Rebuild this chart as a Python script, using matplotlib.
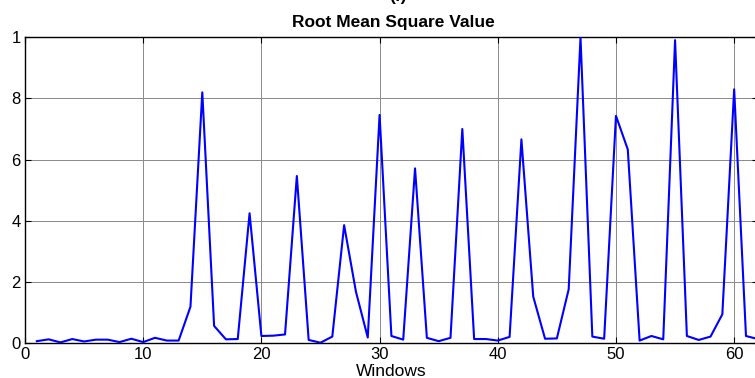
import matplotlib
matplotlib.use("Agg")
import matplotlib.pyplot as plt

plt.rcParams['font.family'] = ['Liberation Sans', 'DejaVu Sans']

# RMS value per window
windows = list(range(1, 63))
rms = [0.005, 0.011, 0.001, 0.012, 0.004, 0.010, 0.010, 0.002, 0.013, 0.002,
       0.016, 0.007, 0.007, 0.118, 0.820, 0.055, 0.011, 0.012, 0.424, 0.022,
       0.023, 0.027, 0.546, 0.009, 0.000, 0.020, 0.385, 0.167, 0.017, 0.746,
       0.022, 0.010, 0.571, 0.016, 0.005, 0.016, 0.700, 0.012, 0.012, 0.007,
       0.019, 0.666, 0.151, 0.013, 0.014, 0.175, 1.000, 0.020, 0.013, 0.743,
       0.633, 0.007, 0.022, 0.011, 0.991, 0.022, 0.009, 0.020, 0.093, 0.830,
       0.022, 0.012]

xticks = [0, 10, 20, 30, 40, 50, 60]
yticks = [0, 0.2, 0.4, 0.6, 0.8, 1.0]
yticklabels = ["0", "2", "4", "6", "8", "1"]

W, H = 755, 378
fig = plt.figure(figsize=(W / 100, H / 100), dpi=100)
ax = fig.add_axes([25 / W, 1 - 342.7 / H, 732.8 / W, 305.3 / H])

ax.plot(windows, rms, color='#0000ff', linewidth=1.5, zorder=3)

ax.set_xlim(0, 62)
ax.set_ylim(0, 1)
ax.set_xticks(xticks)
ax.set_xticklabels([str(t) for t in xticks])
ax.set_yticks(yticks)
ax.set_yticklabels(yticklabels)

ax.grid(True, color='#8a8a8a', linewidth=0.7, linestyle='-')
ax.set_axisbelow(True)
ax.tick_params(direction='in', length=4, width=0.8, top=True, right=True,
               labelsize=12)
ax.tick_params(axis='x', pad=3)
ax.tick_params(axis='y', pad=3)
for s in ax.spines.values():
    s.set_linewidth(1.0)

# axis label and titles, placed in pixel terms
fig.text(391 / W, 1 - 376 / H, "Windows", ha='center', va='baseline',
         fontsize=12.5)
fig.text(393.5 / W, 1 - 27 / H, "Root Mean Square Value", ha='center',
         va='baseline', fontsize=12.5, fontweight='bold')
fig.text(398 / W, 1 - 1.5 / H, "(f)", ha='center', va='baseline',
         fontsize=12.5, fontweight='bold')

fig.savefig("out.png", dpi=100)
